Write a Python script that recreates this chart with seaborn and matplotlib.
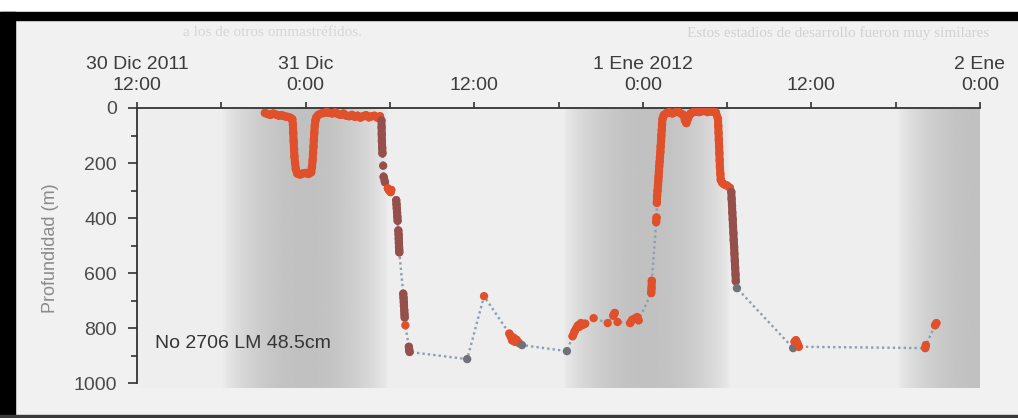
import numpy as np
import pandas as pd
import matplotlib
matplotlib.use("Agg")
import matplotlib.pyplot as plt
from matplotlib.patches import Rectangle
import seaborn as sns

# ---------------- data ----------------
# hours since 30 Dic 2011 12:00, depth (m), point class
HORAS = [
    9.1, 9.3, 9.5, 9.7, 9.9, 10.1, 10.3, 10.5, 10.7, 10.9, 11.05,
    11.1, 11.12, 11.15, 11.18, 11.2, 11.25, 11.3,
    11.4, 11.6, 11.8, 12.0, 12.2, 12.4,
    12.45, 12.5, 12.53, 12.56, 12.59, 12.62, 12.65, 12.7, 12.75,
    12.9, 13.1, 13.3, 13.5, 13.7, 13.9, 14.1, 14.3, 14.5, 14.7, 14.9, 15.1, 15.3,
    15.5, 15.7, 15.9, 16.1, 16.3, 16.5, 16.7, 16.9, 17.1, 17.3,
    17.4, 17.41, 17.42, 17.43, 17.45, 17.47,
    17.52, 17.55, 17.65,
    17.85, 17.95, 18.05, 18.1,
    18.45, 18.47, 18.49, 18.51, 18.53, 18.55,
    18.6, 18.62, 18.63, 18.64, 18.65, 18.66, 18.67,
    18.95, 18.97, 18.99, 19.0, 19.02, 19.04, 19.05,
    19.1,
    19.35, 19.37, 19.4,
    23.5,
    24.7,
    26.5, 26.6, 26.7, 26.8, 26.9, 27.0, 27.2, 27.4,
    30.6,
    31.0, 31.15, 31.3, 31.4, 31.5, 31.6, 31.75, 31.9,
    32.5, 33.5, 33.9, 34.0, 34.2, 35.1, 35.25, 35.6, 35.7,
    36.6, 36.62, 36.64,
    36.95, 36.98,
    37.0, 37.02, 37.05, 37.08, 37.1, 37.12, 37.15, 37.17, 37.2, 37.22, 37.25,
    37.27, 37.3, 37.32, 37.35, 37.37, 37.4,
    37.5, 37.7, 37.9, 38.1, 38.3, 38.5, 38.7, 38.9, 39.0, 39.1, 39.2, 39.4,
    39.6, 39.8, 40.0, 40.2, 40.4, 40.6, 40.8, 41.0, 41.2,
    41.35, 41.37, 41.39, 41.41, 41.43, 41.45, 41.47, 41.49, 41.52, 41.55,
    41.65, 41.8, 42.0, 42.2,
    42.3, 42.32, 42.35, 42.37, 42.4, 42.42, 42.45, 42.47, 42.5, 42.52, 42.55,
    42.57, 42.6, 42.62,
    42.7,
    46.7, 46.8, 46.9, 47.0, 47.1,
    56.1, 56.15, 56.8, 56.9,
]
PROF = [
    18, 22, 25, 20, 24, 28, 26, 30, 32, 35, 40,
    60, 90, 120, 150, 175, 200, 222,
    238, 242, 238, 236, 240, 234,
    215, 190, 165, 140, 115, 90, 65, 45, 35,
    25, 20, 18, 15, 18, 20, 16, 22, 25, 20, 28, 30, 25,
    32, 28, 35, 30, 26, 34, 30, 28, 35, 30,
    45, 70, 95, 120, 145, 165,
    210, 250, 270,
    292, 300, 306, 298,
    335, 350, 365, 380, 395, 410,
    445, 460, 475, 490, 505, 515, 525,
    675, 690, 705, 720, 735, 750, 762,
    790,
    868, 878, 887,
    913,
    684,
    820, 830, 845, 835, 850, 842, 855, 862,
    884,
    830, 812, 798, 790, 795, 782, 788, 784,
    764, 782, 755, 745, 778, 782, 770, 760, 772,
    673, 655, 628,
    415, 398,
    345, 318, 300, 282, 265, 250, 230, 212, 195, 178, 160,
    140, 120, 100, 80, 60, 40,
    25, 18, 15, 20, 15, 12, 20, 25, 45, 55, 40, 20,
    15, 12, 15, 12, 10, 15, 12, 14, 16,
    40, 65, 90, 115, 140, 165, 190, 215, 240, 262,
    272, 278, 282, 290,
    305, 330, 355, 380, 405, 430, 455, 480, 505, 530, 555,
    580, 605, 630,
    655,
    873, 850, 844, 855, 868,
    873, 862, 790, 782,
]
TIPO = (
    ["a"] * 11 + ["a"] * 7 + ["a"] * 6 + ["a"] * 9 + ["a"] * 23 +
    ["b"] * 6 + ["b"] * 3 + ["a"] * 4 + ["b"] * 6 + ["b"] * 7 + ["b"] * 7 +
    ["a"] + ["b"] * 3 + ["c"] + ["a"] +
    ["a"] * 7 + ["c"] + ["c"] +
    ["a"] * 8 + ["a"] * 9 + ["a"] * 3 + ["a"] * 2 +
    ["a"] * 17 + ["a"] * 21 + ["a"] * 14 + ["b"] * 14 + ["c"] +
    ["c"] + ["a"] * 4 + ["a"] * 4
)

# night periods (hours since 30 Dic 12:00)
NOCHE_INI = [6.05, 30.3, 54.1]
NOCHE_FIN = [17.9, 42.2, 66.0]

TICK_HORAS = [0, 12, 24, 36, 48, 60]
TICK_TEXTO = ["30 Dic 2011\n12:00", "31 Dic\n0:00", "12:00",
              "1 Ene 2012\n0:00", "12:00", "2 Ene\n0:00"]
Y_TICKS = [0, 200, 400, 600, 800, 1000]

df = pd.DataFrame({"hora": HORAS, "prof": PROF, "tipo": TIPO})

# figure geometry (pixels)
W, H = 1018, 418
x0, x1, y0, y1 = 137, 980, 108, 388
XMAX, YMAX = 60, 1018
PX_H = (x1 - x0) / XMAX
PX_M = (y1 - y0) / YMAX

# dense bursts of records (drawn as a thick trace): break where consecutive
# records are far apart on screen or change class
dist = np.hypot(np.diff(df["hora"]) * PX_H, np.diff(df["prof"]) * PX_M)
brk = np.r_[True, (dist > 9) | (df["tipo"].values[1:] != df["tipo"].values[:-1])]
df["tramo"] = np.cumsum(brk)

PAL = {"a": "#e0502b", "b": "#96504b", "c": "#717179"}

# ---------------- style ----------------
sns.set_style("white")
plt.rcParams["font.family"] = ["Liberation Sans", "DejaVu Sans"]

fig = plt.figure(figsize=(W / 100, H / 100), dpi=100, facecolor="#f1f1f1")
ax = fig.add_axes([x0 / W, 1 - y1 / H, (x1 - x0) / W, (y1 - y0) / H])
ax.set_facecolor("#eeeeee")

# night shading
for a, b in zip(NOCHE_INI, NOCHE_FIN):
    t = np.linspace(0, 1, 300)
    p = np.sin(np.pi * t) ** 0.7
    col = 0.935 - 0.18 * p
    img = np.tile(col, (2, 1))
    ax.imshow(img, extent=(a, b, YMAX, 0), aspect="auto", cmap="gray",
              vmin=0, vmax=1, zorder=0, interpolation="bilinear")
ax.set_xlim(0, XMAX)
ax.set_ylim(YMAX, 0)

# data
sns.lineplot(data=df, x="hora", y="prof", sort=False, estimator=None,
             color="#8d9db3", linestyle=(0, (1, 1.3)), linewidth=1.7, ax=ax,
             zorder=2)
sns.lineplot(data=df, x="hora", y="prof", hue="tipo", units="tramo",
             palette=PAL, sort=False, estimator=None, linewidth=5.8,
             solid_capstyle="round", legend=False, ax=ax, zorder=3)
sns.scatterplot(data=df, x="hora", y="prof", hue="tipo", palette=PAL,
                s=36, linewidth=0, legend=False, ax=ax, zorder=4)

# axes formatting
ax.xaxis.tick_top()
ax.set_xticks(np.arange(0, 61, 6))
ax.set_xticklabels([TICK_TEXTO[TICK_HORAS.index(v)] if v in TICK_HORAS else ""
                    for v in range(0, 61, 6)],
                   fontsize=14, color="#3c3c3c", linespacing=1.3)
ax.tick_params(axis="x", direction="out", length=4, width=1.2, color="#333333",
               pad=6, top=True, bottom=False)
ax.set_yticks(Y_TICKS)
ax.set_yticks(np.arange(100, 1000, 200), minor=True)
ax.set_yticklabels([str(v) for v in Y_TICKS], fontsize=14, color="#4a4a4a")
ax.tick_params(axis="y", which="major", direction="out", length=6.5, width=1.2,
               color="#333333", pad=8, left=True)
ax.tick_params(axis="y", which="minor", direction="out", length=4, width=1.2,
               color="#333333", left=True)
for s in ["right", "bottom"]:
    ax.spines[s].set_visible(False)
for s in ["top", "left"]:
    ax.spines[s].set_color("#333333")
    ax.spines[s].set_linewidth(1.3)
ax.spines["left"].set_bounds(0, 1000)
ax.set_xlabel("")
ax.set_ylabel("Profundidad (m)", fontsize=13, color="#8a8a8a", labelpad=10)

ax.text(1.3, 855, "No 2706 LM 48.5cm", fontsize=14, color="#353535",
        ha="left", va="center", zorder=5)

# scan frame
fig.add_artist(Rectangle((0, 1 - 12 / H), 1, 12 / H, transform=fig.transFigure,
                         color="white", zorder=10))
fig.add_artist(Rectangle((0, 1 - 20 / H), 1, 8 / H, transform=fig.transFigure,
                         color="black", zorder=11))
fig.add_artist(Rectangle((0, 0), 15 / W, 1 - 12 / H, transform=fig.transFigure,
                         color="black", zorder=11))
fig.add_artist(Rectangle((0, 0), 1, 3 / H, transform=fig.transFigure,
                         color="#3a3a3a", zorder=11))

# faint bleed-through text of the scanned page
fig.text(687 / W, 1 - 33 / H, "Estos estadios de desarrollo fueron muy similares",
         fontsize=11, color="#d2d2d2", family="Liberation Serif", va="center")
fig.text(183 / W, 1 - 33 / H, "a los de otros ommastréfidos.",
         fontsize=11, color="#d6d6d6", family="Liberation Serif", va="center")

fig.savefig("out.png", dpi=100, facecolor=fig.get_facecolor())
